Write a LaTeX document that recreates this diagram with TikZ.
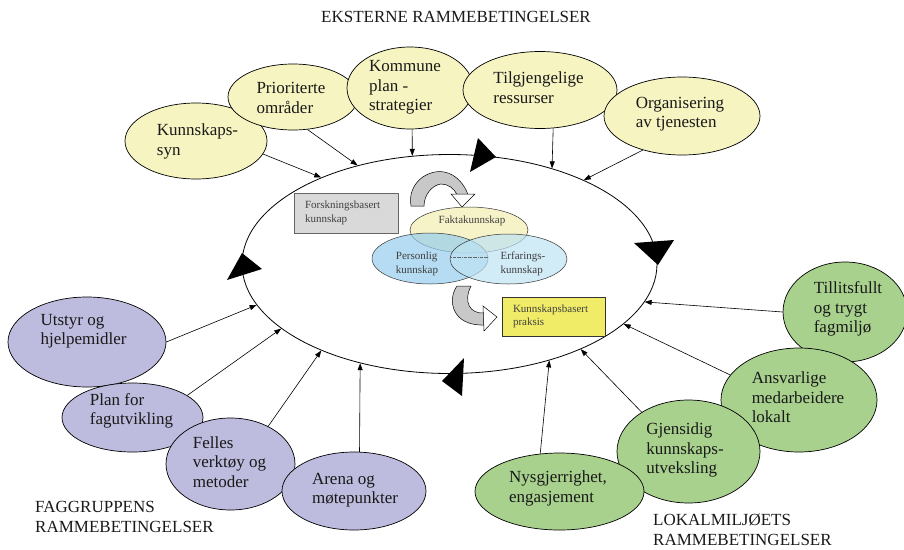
\documentclass[tikz,border=0pt]{standalone}
\usepackage{fontspec}
\setmainfont{Liberation Serif}
\usetikzlibrary{shapes.geometric,arrows.meta}
\definecolor{yelfill}{RGB}{246,244,193}
\definecolor{purfill}{RGB}{190,188,222}
\definecolor{grnfill}{RGB}{169,209,142}
\definecolor{kbfill}{RGB}{240,236,104}
\definecolor{fbfill}{RGB}{217,217,217}
\definecolor{fakfill}{RGB}{246,243,200}
\definecolor{perfill}{RGB}{150,205,236}
\definecolor{erffill}{RGB}{190,226,243}
\definecolor{barrfill}{RGB}{200,200,200}
\begin{document}
\begin{tikzpicture}[x=1pt,y=-1pt,
  bubble/.style={ellipse, draw=black, line width=0.7pt, inner sep=0pt},
  btxt/.style={align=left, font=\fontsize{17}{19.5}\selectfont, inner sep=0pt, text=black!90},
  stxt/.style={align=left, font=\fontsize{11}{13.5}\selectfont, inner sep=0pt, text=black!75},
  conn/.style={-{Triangle[length=7pt,width=5pt]}, line width=0.6pt},
  lens/.style={ellipse, draw=black!80, line width=0.5pt, inner sep=0pt},
  sbox/.style={draw=black!60, line width=0.7pt, align=left, inner xsep=11pt, font=\fontsize{11}{13.5}\selectfont, text=black!75}
]
\useasboundingbox (0,0) rectangle (904,549);

% big cycle ellipse
\node[ellipse, draw=black, line width=0.8pt, inner sep=0pt, minimum width=415pt, minimum height=219pt] (E) at (449.5,264) {};
\fill (478,138) -- (496,157) -- (470,172) -- cycle;
\fill (634,243) -- (674,240) -- (658,265) -- cycle;
\fill (464,358) -- (442,381) -- (462,396) -- cycle;
\fill (242,253) -- (262,269) -- (227,280) -- cycle;

% top (external) ellipses
\node[bubble, fill=yelfill, minimum width=142pt, minimum height=76pt] (k1) at (196,141) {};
\node[bubble, fill=yelfill, minimum width=130pt, minimum height=66pt] (k2) at (293,97) {};
\node[bubble, fill=yelfill, minimum width=126pt, minimum height=82pt] (k3) at (410,88) {};
\node[bubble, fill=yelfill, minimum width=154pt, minimum height=77pt] (k4) at (540,90) {};
\node[bubble, fill=yelfill, minimum width=156pt, minimum height=78pt] (k5) at (682,116) {};
\node[btxt] (k1t) at (197.5,141.3) {Kunnskaps-\\syn};
\node[btxt] (k2t) at (291,98) {Prioriterte\\områder};
\node[btxt] (k3t) at (405,87.5) {Kommune\\plan -\\strategier};
\node[btxt] (k4t) at (538.5,87.5) {Tilgjengelige\\ressurser};
\node[btxt] (k5t) at (680,114) {Organisering\\av tjenesten};

% left (faggruppe) ellipses
\node[bubble, fill=purfill, minimum width=158pt, minimum height=90pt] (p1) at (87,342) {};
\node[bubble, fill=purfill, minimum width=141pt, minimum height=69pt] (p2) at (132.5,417.5) {};
\node[bubble, fill=purfill, minimum width=129pt, minimum height=92pt] (p3) at (230.5,464) {};
\node[bubble, fill=purfill, minimum width=144pt, minimum height=78pt] (p4) at (354,491) {};
\node[btxt] (p1t) at (83.5,331) {Utstyr og\\hjelpemidler};
\node[btxt] (p2t) at (131.5,411) {Plan for\\fagutvikling};
\node[btxt] (p3t) at (229.5,461.7) {Felles\\verktøy og\\metoder};
\node[btxt] (p4t) at (355,490.2) {Arena og\\møtepunkter};

% right (lokalmiljø) ellipses
\node[bubble, fill=grnfill, minimum width=124pt, minimum height=100pt] (g1) at (845,312) {};
\node[bubble, fill=grnfill, minimum width=156pt, minimum height=104pt] (g2) at (799,400) {};
\node[bubble, fill=grnfill, minimum width=143pt, minimum height=103pt] (g3) at (688.5,451.5) {};
\node[bubble, fill=grnfill, minimum width=169pt, minimum height=77pt] (g4) at (559.5,491.5) {};
\node[btxt] (g1t) at (848,309) {Tillitsfullt\\og trygt\\fagmiljø};
\node[btxt] (g2t) at (798,397.4) {Ansvarlige\\medarbeidere\\lokalt};
\node[btxt] (g3t) at (685,450) {Gjensidig\\kunnskaps-\\utveksling};
\node[btxt] (g4t) at (558,488.2) {Nysgjerrighet,\\engasjement};

% connectors
\draw[conn] (k1.-11) -- (E.146.4);
\draw[conn] (k2.-66.4) -- (E.133.3);
\draw[conn] (k3.-87) -- (E.109);
\draw[conn] (k4.-71) -- (E.43.1);
\draw[conn] (k5.-139) -- (E.32.8);
\draw[conn] (p1.0) -- (E.-168.3);
\draw[conn] (p2.22) -- (E.-159.6);
\draw[conn] (p3.45.4) -- (E.-146.4);
\draw[conn] (p4.82.7) -- (E.-132.4);
\draw[conn] (g1.180) -- (E.-11.5);
\draw[conn] (g2.160.1) -- (E.-19.8);
\draw[conn] (g3.140.4) -- (E.-33.4);
\draw[conn] (g4.117.5) -- (E.-44.6);

% centre: knowledge lenses
\node[lens, fill=fakfill, minimum width=118pt, minimum height=46pt] (fa) at (469,230) {};
\node[lens, fill=perfill, fill opacity=0.7, minimum width=116pt, minimum height=51pt] (pe) at (430,258.5) {};
\node[lens, fill=erffill, fill opacity=0.7, minimum width=117pt, minimum height=50pt] (er) at (508.5,259) {};
\draw[densely dashdotted, black!60, line width=0.4pt] (pe.east |- 0,257) -- (er.west |- 0,257);
\node[stxt, anchor=base] (fat) at (472,223) {Faktakunnskap};
\node[stxt] (pet) at (417,264) {Personlig\\kunnskap};
\node[stxt] (ert) at (523,264) {Erfarings-\\kunnskap};

% boxes
\node[sbox, fill=fbfill, minimum width=104pt, minimum height=40pt, text width=82pt] (fb) at (346,213) {Forskningsbasert\\kunnskap};
\node[sbox, draw=black!80, fill=kbfill, minimum width=103pt, minimum height=39pt, text width=81pt] (kb) at (553.5,316.5) {Kunnskapsbasert\\praksis};

% curved block arrows
\draw[fill=barrfill, line width=0.5pt] (411,206) .. controls (407,183) and (428,169) .. (444,172)
  .. controls (456,174) and (465,185) .. (468,195) -- (457,195)
  .. controls (454,188) and (448,184) .. (441,184)
  .. controls (432,185) and (424,195) .. (424,206) -- cycle;
\draw[fill=white, line width=0.5pt] (451,194) -- (475,194) -- (462,207) -- cycle;
\draw[fill=barrfill, line width=0.5pt] (457,286) .. controls (447,300) and (452,326) .. (484,325)
  -- (484,313) .. controls (470,314) and (463,302) .. (471,286) -- cycle;
\draw[fill=white, line width=0.5pt] (483,306) -- (497,317) -- (484,331) -- cycle;

% group labels
\node[btxt, anchor=base] (title) at (456,22) {EKSTERNE RAMMEBETINGELSER};
\node[btxt, align=left, anchor=west, font=\fontsize{17}{20}\selectfont] (fag) at (35,517.4) {FAGGRUPPENS\\RAMMEBETINGELSER};
\node[btxt, align=left, anchor=west, font=\fontsize{17}{20}\selectfont] (lok) at (653,529.4) {LOKALMILJØETS\\RAMMEBETINGELSER};
\end{tikzpicture}
\end{document}
